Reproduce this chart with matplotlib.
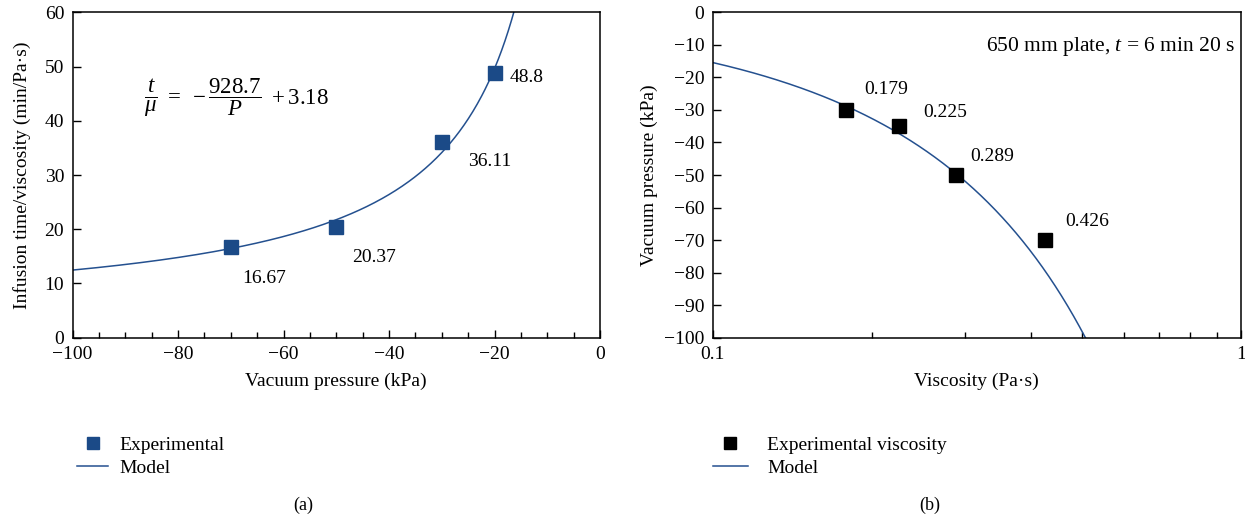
import numpy as np, matplotlib
matplotlib.use("Agg")
import matplotlib.pyplot as plt
from matplotlib.ticker import MultipleLocator, NullLocator, FixedLocator, FixedFormatter

plt.rcParams["font.family"] = ["Liberation Serif", "DejaVu Serif"]
plt.rcParams["mathtext.fontset"] = "custom"
plt.rcParams["mathtext.rm"] = "Liberation Serif"
plt.rcParams["mathtext.it"] = "Liberation Serif:italic"
plt.rcParams["axes.unicode_minus"] = True

# ---------- DATA ----------
# (a) infusion time / viscosity vs vacuum pressure
pressure_a   = [-70, -50, -30, -20]
ratio_a      = [16.67, 20.37, 36.11, 48.8]
ratio_labels = ["16.67", "20.37", "36.11", "48.8"]
label_pos_a  = [(-67.9, 11.0), (-47.0, 14.7), (-25.0, 32.4), (-17.1, 48.0)]

# model t/mu = -A/P + B
MODEL_A = 928.7
MODEL_B = 3.18

# (b) experimental viscosity vs vacuum pressure
visc_b       = [0.179, 0.225, 0.289, 0.426]
pressure_b   = [-30, -35, -50, -70]
visc_labels  = ["0.179", "0.225", "0.289", "0.426"]
label_pos_b  = [(0.194, -23.8), (0.251, -30.8), (0.308, -44.2), (0.466, -64.4)]
T_INF        = 6 + 20 / 60   # min

# ---------- COLORS ----------
NAVY = "#1b4a87"
LINE = "#24508f"

FS = 14

fig = plt.figure(figsize=(12.45, 5.2), dpi=100)
W, H = 1245, 520
ax1 = fig.add_axes([72.5 / W, 1 - 337.7 / H, (600 - 72.5) / W, (337.7 - 12.3) / H])
ax2 = fig.add_axes([712.7 / W, 1 - 337.7 / H, (1240.7 - 712.7) / W, (337.7 - 12.3) / H])

# ---- (a) ----
p_model = np.linspace(-100, -MODEL_A / (60 - MODEL_B), 400)
ax1.plot(p_model, -MODEL_A / p_model + MODEL_B, color=LINE, lw=1.1, label="Model", zorder=2)
ax1.plot(pressure_a, ratio_a, "s", color=NAVY, ms=9.5, label="Experimental", zorder=3, linestyle="none")
for (x, y), s in zip(label_pos_a, ratio_labels):
    ax1.text(x, y, s, fontsize=FS, ha="left", va="center")
ax1.text(-86.5, 44.3, r"$\dfrac{t}{\mu}\ =\ -\dfrac{928.7}{P}\ +3.18$", fontsize=16.5,
         ha="left", va="center")

ax1.set_xlim(-100, 0)
ax1.set_ylim(0, 60)
ax1.xaxis.set_major_locator(MultipleLocator(20))
ax1.xaxis.set_minor_locator(MultipleLocator(5))
ax1.yaxis.set_major_locator(MultipleLocator(10))
ax1.yaxis.set_minor_locator(NullLocator())
ax1.set_xlabel("Vacuum pressure (kPa)", fontsize=FS, labelpad=7)
ax1.set_ylabel("Infusion time/viscosity (min/Pa\u00b7s)", fontsize=FS, labelpad=10)

h, l = ax1.get_legend_handles_labels()
ax1.legend([h[1], h[0]], [l[1], l[0]], loc="center left",
           bbox_to_anchor=(77 / W, 1 - 456.5 / H), bbox_transform=fig.transFigure,
           frameon=False, fontsize=FS, handlelength=1.6, handletextpad=0.6,
           borderpad=0, borderaxespad=0, labelspacing=0.3, markerscale=0.85)
fig.text(303 / W, 1 - 505 / H, "(a)", fontsize=FS - 1, ha="center", va="center")

# ---- (b) ----
p_b = np.linspace(-100, -MODEL_A / (T_INF / 0.1 - MODEL_B), 400)
ax2.plot(T_INF / (-MODEL_A / p_b + MODEL_B), p_b, color=LINE, lw=1.1, label="Model", zorder=2)
ax2.plot(visc_b, pressure_b, "s", color="black", ms=10, label="Experimental viscosity",
         zorder=3, linestyle="none")
for (x, y), s in zip(label_pos_b, visc_labels):
    ax2.text(x, y, s, fontsize=FS, ha="left", va="center")
ax2.text(0.99, 0.895, "650 mm plate, $t$ = 6 min 20 s", transform=ax2.transAxes,
         fontsize=FS + 1.5, ha="right", va="center")

ax2.set_xscale("log")
ax2.set_xlim(0.1, 1)
ax2.set_ylim(-100, 0)
ax2.xaxis.set_major_locator(FixedLocator([0.1, 1]))
ax2.xaxis.set_major_formatter(FixedFormatter(["0.1", "1"]))
ax2.xaxis.set_minor_locator(FixedLocator([0.2, 0.3, 0.4, 0.5, 0.6, 0.7, 0.8, 0.9]))
ax2.xaxis.set_minor_formatter(FixedFormatter([]))
ax2.yaxis.set_major_locator(MultipleLocator(10))
ax2.yaxis.set_minor_locator(NullLocator())
ax2.set_xlabel("Viscosity (Pa\u00b7s)", fontsize=FS, labelpad=7)
ax2.set_ylabel("Vacuum pressure (kPa)", fontsize=FS, labelpad=4)

h, l = ax2.get_legend_handles_labels()
ax2.legend([h[1], h[0]], [l[1], l[0]], loc="center left",
           bbox_to_anchor=(713 / W, 1 - 456.5 / H), bbox_transform=fig.transFigure,
           frameon=False, fontsize=FS, handlelength=1.8, handletextpad=1.0,
           borderpad=0, borderaxespad=0, labelspacing=0.3, markerscale=0.8)
fig.text(930 / W, 1 - 505 / H, "(b)", fontsize=FS - 1, ha="center", va="center")

for ax in (ax1, ax2):
    ax.tick_params(axis="both", which="major", direction="in", length=6, width=1,
                   labelsize=FS, pad=6, top=False, right=False)
    ax.tick_params(axis="both", which="minor", direction="in", length=4.5, width=1,
                   top=False, right=False)
    for sp in ax.spines.values():
        sp.set_linewidth(1.1)
        sp.set_color("black")

fig.savefig("out.png", dpi=100)
